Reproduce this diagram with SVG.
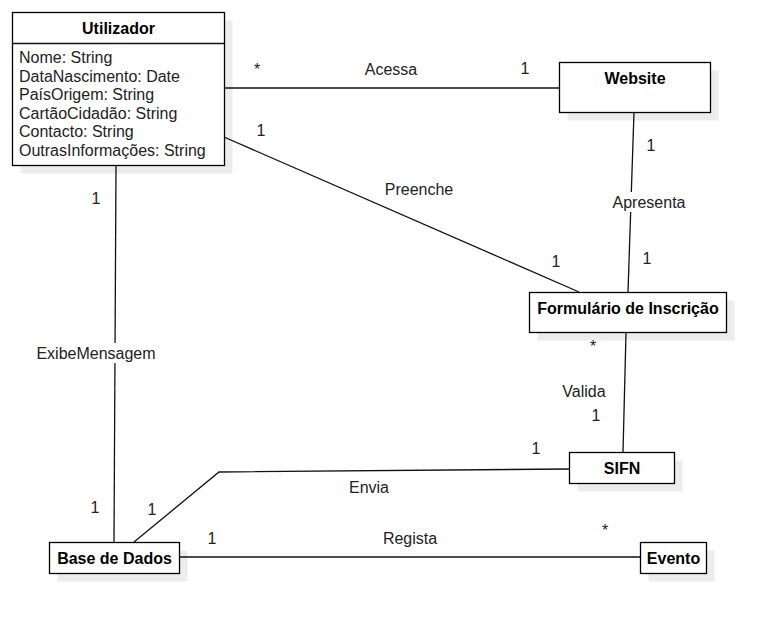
<svg xmlns="http://www.w3.org/2000/svg" width="777" height="623" viewBox="0 0 777 623">
<style>
.box{fill:#fff;stroke:#000;stroke-width:1.3}
.shadow{fill:#ececec;stroke:none}
.title{font-family:"Liberation Sans",Arial,sans-serif;font-size:16px;font-weight:bold;fill:#000;text-anchor:middle}
.attr{font-family:"Liberation Sans",Arial,sans-serif;font-size:16px;fill:#222}
.lbl{font-family:"Liberation Sans",Arial,sans-serif;font-size:16px;fill:#222;text-anchor:middle}
.conn{fill:none;stroke:#111;stroke-width:1.3}
.bg{fill:#fff}
</style>
<rect width="777" height="623" fill="#fff"/>
<g id="shadows">
<rect class="shadow" x="20.5" y="20.5" width="212" height="153"/>
<rect class="shadow" x="567.5" y="70.5" width="151" height="50"/>
<rect class="shadow" x="537.5" y="300.5" width="197" height="40"/>
<rect class="shadow" x="577.5" y="460.5" width="105" height="31"/>
<rect class="shadow" x="57.5" y="550.5" width="130" height="31"/>
<rect class="shadow" x="648.5" y="550.5" width="66" height="31"/>
</g>
<g id="connectors">
<line class="conn" x1="224" y1="88" x2="559" y2="88"/>
<line class="conn" x1="224" y1="137" x2="579" y2="292"/>
<line class="conn" x1="634" y1="112" x2="628" y2="292"/>
<line class="conn" x1="626" y1="333" x2="623" y2="452"/>
<polyline class="conn" points="569,469 219,472 134,542"/>
<line class="conn" x1="116" y1="166" x2="114" y2="542"/>
<line class="conn" x1="180" y1="557" x2="640" y2="557"/>
<rect class="bg" x="610" y="192" width="78" height="20"/>
<rect class="bg" x="34" y="343" width="124" height="20"/>
<text class="lbl" x="257" y="75">*</text>
<text class="lbl" x="391" y="75">Acessa</text>
<text class="lbl" x="525" y="74">1</text>
<text class="lbl" x="261" y="136">1</text>
<text class="lbl" x="419" y="195">Preenche</text>
<text class="lbl" x="556" y="267">1</text>
<text class="lbl" x="651" y="151">1</text>
<text class="lbl" x="649" y="208">Apresenta</text>
<text class="lbl" x="647" y="264">1</text>
<text class="lbl" x="593" y="352">*</text>
<text class="lbl" x="584" y="397">Valida</text>
<text class="lbl" x="596" y="421">1</text>
<text class="lbl" x="536" y="454">1</text>
<text class="lbl" x="369" y="493">Envia</text>
<text class="lbl" x="152" y="515">1</text>
<text class="lbl" x="95" y="513">1</text>
<text class="lbl" x="212" y="544">1</text>
<text class="lbl" x="410" y="544">Regista</text>
<text class="lbl" x="605" y="536">*</text>
<text class="lbl" x="96" y="204">1</text>
<text class="lbl" x="96" y="359">ExibeMensagem</text>
</g>
<g id="utilizador">
<rect class="box" x="12.5" y="12.5" width="212" height="153"/>
<line class="conn" x1="12.5" y1="43.5" x2="224.5" y2="43.5"/>
<text class="title" x="118.5" y="34">Utilizador</text>
<text class="attr" x="19" y="63">Nome: String</text>
<text class="attr" x="19" y="81.5">DataNascimento: Date</text>
<text class="attr" x="19" y="100">PaísOrigem: String</text>
<text class="attr" x="19" y="118.5">CartãoCidadão: String</text>
<text class="attr" x="19" y="137">Contacto: String</text>
<text class="attr" x="19" y="155.5">OutrasInformações: String</text>
</g>
<g id="website">
<rect class="box" x="559.5" y="62.5" width="151" height="50"/>
<text class="title" x="635" y="84">Website</text>
</g>
<g id="formulario">
<rect class="box" x="529.5" y="292.5" width="197" height="40"/>
<text class="title" x="628" y="314">Formulário de Inscrição</text>
</g>
<g id="sifn">
<rect class="box" x="569.5" y="452.5" width="105" height="31"/>
<text class="title" x="622" y="474">SIFN</text>
</g>
<g id="basededados">
<rect class="box" x="49.5" y="542.5" width="130" height="31"/>
<text class="title" x="114.5" y="564">Base de Dados</text>
</g>
<g id="evento">
<rect class="box" x="640.5" y="542.5" width="66" height="31"/>
<text class="title" x="673.5" y="564">Evento</text>
</g>
</svg>
